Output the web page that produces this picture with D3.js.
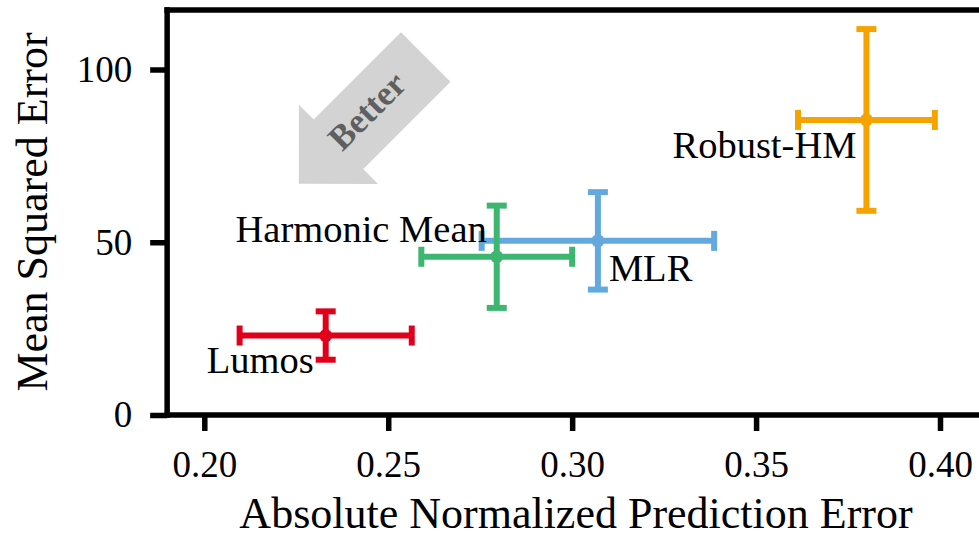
<!DOCTYPE html>
<html>
<head>
<meta charset="utf-8">
<script src="https://cdn.jsdelivr.net/npm/d3@7"></script>
<style>
  body { margin: 0; background: #fff; }
  svg { display: block; }
  text { font-family: "Liberation Serif", "Times New Roman", serif; fill: #000; }
</style>
</head>
<body>
<script>
// data
const methods = ['Lumos', 'Harmonic Mean', 'MLR', 'Robust-HM']
const apeMean = [0.233, 0.2795, 0.307, 0.380]
const apeErr  = [0.0234, 0.0205, 0.0316, 0.0186]
const mseMean = [23.0, 45.8, 50.4, 85.4]
const mseErr  = [7.0, 14.8, 14.1, 26.3]
const colors  = ['#e1001b', '#3db670', '#63a9de', '#f5a300']
// label offsets from each point in px [dx, dy, anchor]
const labelPos = [[-12, 37, 'end'], [-10, -15, 'end'], [11, 40, 'start'], [-10, 38, 'end']]
const xTicks = [0.20, 0.25, 0.30, 0.35, 0.40]
const yTicks = [0, 50, 100]

const W = 979, H = 538
const svg = d3.select('body').append('svg').attr('width', W).attr('height', H)

const x = d3.scaleLinear().domain([0.20, 0.40]).range([204.3, 940])
const y = d3.scaleLinear().domain([0, 100]).range([415, 69.5])
const plotL = x(0.1899), plotT = y(117.2), plotB = y(0), plotR = W + 20

const g = svg.append('g')

// better arrow (tail / tip in data units)
const tail = [x(0.2602), y(103.6)], tip = [x(0.2257), y(66.9)]
const len = Math.hypot(tip[0]-tail[0], tip[1]-tail[1])
const ang = Math.atan2(tip[1]-tail[1], tip[0]-tail[0]) * 180 / Math.PI
const sw = 35, hw = 56, hl = 56
const arrow = g.append('g').attr('transform', `translate(${tail}) rotate(${ang})`)
arrow.append('path')
  .attr('d', `M0,${-sw} L${len-hl},${-sw} L${len-hl},${-hw} L${len},0 L${len-hl},${hw} L${len-hl},${sw} L0,${sw} Z`)
  .attr('fill', '#d3d3d3')
arrow.append('text')
  .attr('transform', `translate(${(len-hl)/2+18},${4}) rotate(180)`)
  .attr('text-anchor', 'middle').attr('dy', '0.35em')
  .style('font-size', '35px').style('font-weight', 'bold').style('fill', '#5f5f5f')
  .text('Better')

// error bars
const order = [2, 3, 0, 1]
const cap = 10
order.forEach(i => {
  const c = colors[i]
  const eb = g.append('g').attr('stroke', c).attr('stroke-width', 6).attr('fill', 'none')
  const cx = x(apeMean[i]), cy = y(mseMean[i])
  const x0 = x(apeMean[i]-apeErr[i]), x1 = x(apeMean[i]+apeErr[i])
  const y0 = y(mseMean[i]-mseErr[i]), y1 = y(mseMean[i]+mseErr[i])
  eb.append('line').attr('x1', x0).attr('x2', x1).attr('y1', cy).attr('y2', cy)
  eb.append('line').attr('x1', cx).attr('x2', cx).attr('y1', y0).attr('y2', y1)
  eb.append('line').attr('x1', x0).attr('x2', x0).attr('y1', cy-cap).attr('y2', cy+cap)
  eb.append('line').attr('x1', x1).attr('x2', x1).attr('y1', cy-cap).attr('y2', cy+cap)
  eb.append('line').attr('x1', cx-cap).attr('x2', cx+cap).attr('y1', y0).attr('y2', y0)
  eb.append('line').attr('x1', cx-cap).attr('x2', cx+cap).attr('y1', y1).attr('y2', y1)
  g.append('circle').attr('cx', cx).attr('cy', cy).attr('r', 6.5).attr('fill', c)
})

// point labels
methods.forEach((m, i) => {
  g.append('text')
    .attr('x', x(apeMean[i]) + labelPos[i][0])
    .attr('y', y(mseMean[i]) + labelPos[i][1])
    .attr('text-anchor', labelPos[i][2])
    .style('font-size', '38.5px')
    .text(m)
})

// spines
const sp = g.append('g').attr('stroke', '#000').attr('stroke-width', 5.5).attr('stroke-linecap', 'square')
sp.append('line').attr('x1', plotL).attr('x2', plotL).attr('y1', plotT).attr('y2', plotB)
sp.append('line').attr('x1', plotL).attr('x2', plotR).attr('y1', plotT).attr('y2', plotT)
sp.append('line').attr('x1', plotL).attr('x2', plotR).attr('y1', plotB).attr('y2', plotB)

// axes
const xAxis = g.append('g').attr('transform', `translate(0,${plotB})`)
  .call(d3.axisBottom(x).tickValues(xTicks).tickFormat(d3.format('.2f')).tickSize(16).tickPadding(20))
const yAxis = g.append('g').attr('transform', `translate(${plotL},0)`)
  .call(d3.axisLeft(y).tickValues(yTicks).tickFormat(d3.format('d')).tickSize(17).tickPadding(18))
;[xAxis, yAxis].forEach(a => {
  a.select('.domain').remove()
  a.selectAll('.tick line').attr('stroke', '#000').attr('stroke-width', 5.5)
  a.selectAll('.tick text').style('font-size', '37px').style('font-family', '"Liberation Serif", serif').attr('fill', '#000')
})

// axis titles
g.append('text').attr('x', 576).attr('y', 528).attr('text-anchor', 'middle')
  .style('font-size', '44px').text('Absolute Normalized Prediction Error')
g.append('text').attr('transform', 'translate(47,212) rotate(-90)').attr('text-anchor', 'middle')
  .style('font-size', '44px').text('Mean Squared Error')
</script>
</body>
</html>
